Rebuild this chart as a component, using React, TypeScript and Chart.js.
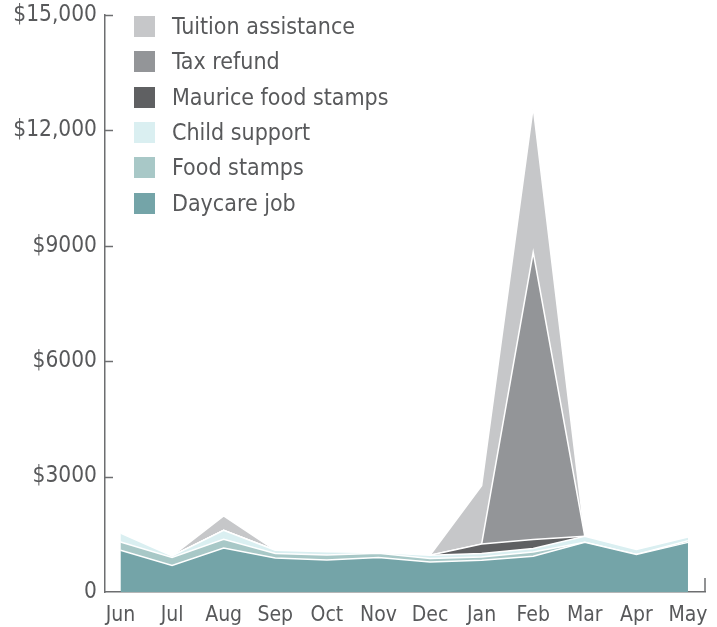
import React, { useEffect, useRef } from "react";
import { Chart, registerables } from "chart.js";

Chart.register(...registerables);

const months = ["Jun", "Jul", "Aug", "Sep", "Oct", "Nov", "Dec", "Jan", "Feb", "Mar", "Apr", "May"];
const daycareJob = [1085, 690, 1145, 885, 830, 895, 780, 825, 930, 1290, 975, 1290];
const foodStamps = [215, 210, 226, 114, 130, 110, 90, 85, 110, 0, 0, 40];
const childSupport = [235, 40, 234, 86, 85, 25, 86, 90, 90, 160, 130, 100];
const mauriceFoodStamps = [0, 0, 0, 0, 0, 0, 0, 245, 234, 0, 0, 0];
const taxRefund = [0, 0, 0, 0, 0, 0, 0, 0, 7466, 0, 0, 0];
const tuitionAssistance = [0, 0, 372, 0, 0, 0, 0, 1517, 3772, 0, 0, 0];

const yTickValues = [0, 3000, 6000, 9000, 12000, 15000];
const yTickLabels = ["0", "$3000", "$6000", "$9000", "$12,000", "$15,000"];

const FONT = "'Liberation Sans Narrow', 'DejaVu Sans Condensed', Roboto, sans-serif";
const TEXT = "#58595b";
const AXIS = "#6d6e70";

const series = [
  { label: "Daycare job", data: daycareJob, color: "#74a4a8" },
  { label: "Food stamps", data: foodStamps, color: "#a8c8c7" },
  { label: "Child support", data: childSupport, color: "#daeff1" },
  { label: "Maurice food stamps", data: mauriceFoodStamps, color: "#5f6062" },
  { label: "Tax refund", data: taxRefund, color: "#939598" },
  { label: "Tuition assistance", data: tuitionAssistance, color: "#c6c7c9" },
];

const axisDecor = {
  id: "axisDecor",
  afterDraw(chart: any) {
    const { ctx, chartArea, scales } = chart;
    const y = scales.y;
    ctx.save();
    ctx.strokeStyle = AXIS;
    ctx.lineWidth = 1.5;
    y.ticks.forEach((t: any) => {
      if (t.value === 0) return;
      const py = Math.round(y.getPixelForValue(t.value)) + 0.5;
      ctx.beginPath();
      ctx.moveTo(chartArea.left, py);
      ctx.lineTo(chartArea.left + 8, py);
      ctx.stroke();
    });
    ctx.beginPath();
    ctx.moveTo(chartArea.right, chartArea.bottom);
    ctx.lineTo(chartArea.right, chartArea.bottom - 14);
    ctx.stroke();
    ctx.restore();
  },
};

export default function App() {
  const ref = useRef<HTMLCanvasElement | null>(null);
  useEffect(() => {
    if (!ref.current) return;
    const chart = new Chart(ref.current, {
      type: "line",
      data: {
        datasets: series.map((s, i) => ({
          label: s.label,
          data: s.data.map((v, j) => ({ x: j, y: v })),
          backgroundColor: s.color,
          borderColor: "#ffffff",
          borderWidth: 1.5,
          pointRadius: 0,
          tension: 0,
          fill: i === 0 ? "origin" : "-1",
        })),
      },
      options: {
        responsive: false,
        animation: false,
        layout: { padding: { top: 15, right: 12, left: 0, bottom: 0 } },
        plugins: { legend: { display: false }, tooltip: { enabled: false } },
        scales: {
          x: {
            type: "linear",
            min: -0.3,
            max: 11.33,
            afterBuildTicks: (s: any) => {
              s.ticks = months.map((_, i) => ({ value: i }));
            },
            afterFit: (s: any) => {
              s.height = 35;
              s.paddingLeft = 0;
              s.paddingRight = 0;
            },
            ticks: {
              autoSkip: false,
              maxRotation: 0,
              padding: 3,
              color: TEXT,
              font: { family: FONT, size: 21 },
              callback: (v: any) => months[v] ?? "",
            },
            grid: { display: false },
            border: { display: true, color: AXIS, width: 1.5 },
          },
          y: {
            stacked: true,
            min: 0,
            max: 15000,
            afterBuildTicks: (s: any) => {
              s.ticks = yTickValues.map((v) => ({ value: v }));
            },
            afterFit: (s: any) => {
              s.width = 105;
              s.paddingTop = 0;
              s.paddingBottom = 0;
            },
            ticks: {
              padding: 0,
              color: TEXT,
              font: { family: FONT, size: 22.5 },
              callback: (v: any) => yTickLabels[yTickValues.indexOf(v)] ?? "",
            },
            grid: { display: false },
            border: { display: true, color: AXIS, width: 1.5 },
          },
        },
      },
      plugins: [axisDecor],
    });
    return () => chart.destroy();
  }, []);

  const legendItems = [...series].reverse();
  return (
    <div style={{ position: "fixed", left: 0, top: 0, width: 717, height: 627, background: "#fff" }}>
      <canvas ref={ref} width={717} height={627} style={{ display: "block" }} />
      <div style={{ position: "absolute", left: 134, top: 9 }}>
        {legendItems.map((s) => (
          <div key={s.label} style={{ display: "flex", alignItems: "center", height: 35.3 }}>
            <span style={{ width: 21, height: 21, background: s.color, display: "inline-block" }} />
            <span
              style={{
                marginLeft: 17,
                fontFamily: FONT,
                fontSize: 23,
                color: TEXT,
                whiteSpace: "nowrap",
                lineHeight: "35px",
              }}
            >
              {s.label}
            </span>
          </div>
        ))}
      </div>
    </div>
  );
}
